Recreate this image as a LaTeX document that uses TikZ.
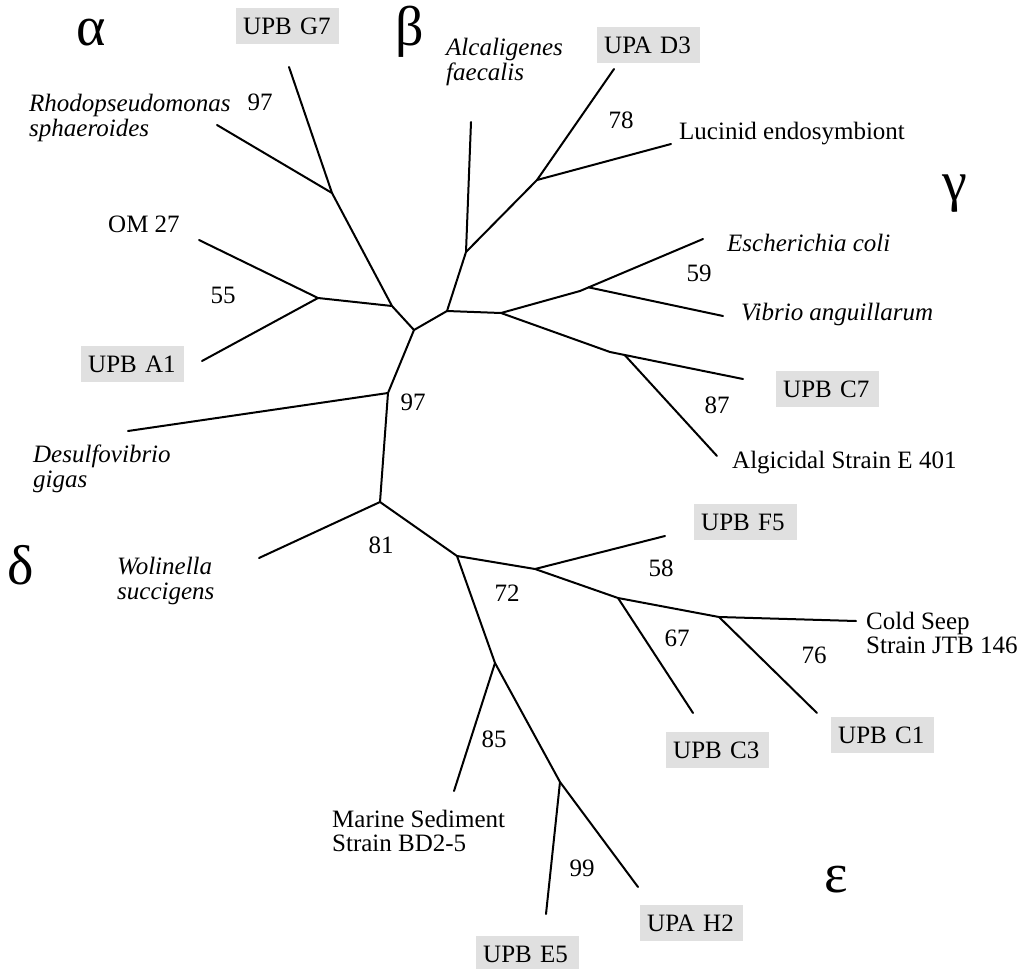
\documentclass[tikz,border=0pt]{standalone}
\usepackage{fontspec}
\setmainfont{Liberation Serif}
\usetikzlibrary{calc}
\begin{document}
\begin{tikzpicture}[x=1pt,y=-1pt,
  br/.style={line width=2pt,line cap=round,line join=round},
  lab/.style={inner sep=0pt,anchor=west,align=left,font=\fontsize{25}{24.5}\selectfont},
  ital/.style={lab,font=\fontsize{25}{24.5}\selectfont\itshape},
  boot/.style={inner sep=0pt,font=\fontsize{25}{25}\selectfont},
  grp/.style={inner sep=0pt,font=\fontsize{56}{56}\selectfont},
  gbox/.style={fill=black!12,anchor=north west,inner xsep=7pt,inner ysep=0pt,
    text width=89pt,minimum height=36pt,align=left,font=\fontsize{25}{25}\selectfont}]
\useasboundingbox (0,0) rectangle (1018,969);
% tree coordinates
\coordinate (A) at (414,330);
\coordinate (B) at (447,311);
\coordinate (Nal) at (392,306);
\coordinate (NG7) at (332,193);
\coordinate (lG7) at (289,67);
\coordinate (lRho) at (217,125);
\coordinate (NOM) at (318,298);
\coordinate (lOM) at (199,240);
\coordinate (lA1) at (202,361);
\coordinate (N97) at (388,393);
\coordinate (lDes) at (128,431);
\coordinate (N81) at (380,502);
\coordinate (lWol) at (259,558);
\coordinate (N72) at (457,556);
\coordinate (NF5) at (535,569);
\coordinate (lF5) at (665,536);
\coordinate (NC3) at (618,598);
\coordinate (lC3) at (693,713);
\coordinate (NC1) at (719,617);
\coordinate (lCold) at (856,621);
\coordinate (lC1) at (817,713);
\coordinate (N85) at (495,663);
\coordinate (lMar) at (454,791);
\coordinate (N99) at (560,782);
\coordinate (lE5) at (546,914);
\coordinate (lH2) at (638,887);
\coordinate (Nbe) at (466,252);
\coordinate (lAlc) at (471,122);
\coordinate (ND3) at (537,180);
\coordinate (lD3) at (614,69);
\coordinate (lLuc) at (671,144);
\coordinate (G1) at (501,313);
\coordinate (Ncoli) at (580,291);
\coordinate (lcoli) at (703,239);
\coordinate (lVib) at (723,316);
\coordinate (NC7) at (610,352);
\coordinate (lC7) at (743,379);
\coordinate (lE401) at (717,456);
\coordinate (vst) at ($(Ncoli)!0.07!(lcoli)$);
\coordinate (est) at ($(NC7)!0.11!(lC7)$);
% branches
\draw[br] (lDes) -- (N97) -- (A) -- (Nal) -- (NG7) -- (lG7);
\draw[br] (NG7) -- (lRho);
\draw[br] (Nal) -- (NOM) -- (lOM);
\draw[br] (NOM) -- (lA1);
\draw[br] (A) -- (B) -- (Nbe) -- (lAlc);
\draw[br] (Nbe) -- (ND3) -- (lD3);
\draw[br] (ND3) -- (lLuc);
\draw[br] (B) -- (G1) -- (Ncoli) -- (lcoli);
\draw[br] (vst) -- (lVib);
\draw[br] (G1) -- (NC7) -- (lC7);
\draw[br] (est) -- (lE401);
\draw[br] (N97) -- (N81) -- (lWol);
\draw[br] (N81) -- (N72) -- (NF5) -- (lF5);
\draw[br] (NF5) -- (NC3) -- (lC3);
\draw[br] (NC3) -- (NC1) -- (lCold);
\draw[br] (NC1) -- (lC1);
\draw[br] (N72) -- (N85) -- (lMar);
\draw[br] (N85) -- (N99) -- (lE5);
\draw[br] (N99) -- (lH2);
% group letters
\node[grp] (alpha) at (91,33) {α};
\node[grp] (beta) at (410,32) {β};
\node[grp] (gamma) at (955,194) {γ};
\node[grp] (delta) at (21,565) {δ};
\node[grp] (eps) at (836,880) {ε};
% boxed labels
\node[gbox] (tG7) at (236,8) {UPB G7};
\node[gbox] (tA1) at (81,346) {UPB A1};
\node[gbox] (tD3) at (597,27) {UPA D3};
\node[gbox] (tC7) at (776,371) {UPB C7};
\node[gbox] (tF5) at (694,504) {UPB F5};
\node[gbox] (tC3) at (666,732) {UPB C3};
\node[gbox] (tC1) at (831,717) {UPB C1};
\node[gbox] (tE5) at (476,936) {UPB E5};
\node[gbox] (tH2) at (640,905) {UPA H2};
% plain labels
\node[ital] (tRho) at (29,118) {Rhodopseudomonas\\sphaeroides};
\node[lab] (tOM) at (108,224) {OM 27};
\node[ital] (tAlc) at (446,62) {Alcaligenes\\faecalis};
\node[lab] (tLuc) at (679,134) {Lucinid endosymbiont};
\node[ital] (tcoli) at (727,243) {Escherichia coli};
\node[ital] (tVib) at (741,314) {Vibrio anguillarum};
\node[lab] (tE401) at (732,463) {Algicidal Strain E 401};
\node[ital] (tDes) at (33,469) {Desulfovibrio\\gigas};
\node[ital] (tWol) at (117,581) {Wolinella\\succigens};
\node[lab] (tCold) at (866,633) {Cold Seep\\Strain JTB 146};
\node[lab] (tMar) at (332,831) {Marine Sediment\\Strain BD2-5};
% bootstrap values
\node[boot] (b1) at (260,102) {97};
\node[boot] (b2) at (223,295) {55};
\node[boot] (b3) at (621,120) {78};
\node[boot] (b4) at (699,273) {59};
\node[boot] (b5) at (717,405) {87};
\node[boot] (b6) at (413,402) {97};
\node[boot] (b7) at (381,545) {81};
\node[boot] (b8) at (507,593) {72};
\node[boot] (b9) at (661,568) {58};
\node[boot] (b10) at (677,638) {67};
\node[boot] (b11) at (814,655) {76};
\node[boot] (b12) at (494,739) {85};
\node[boot] (b13) at (582,868) {99};
\end{tikzpicture}
\end{document}
